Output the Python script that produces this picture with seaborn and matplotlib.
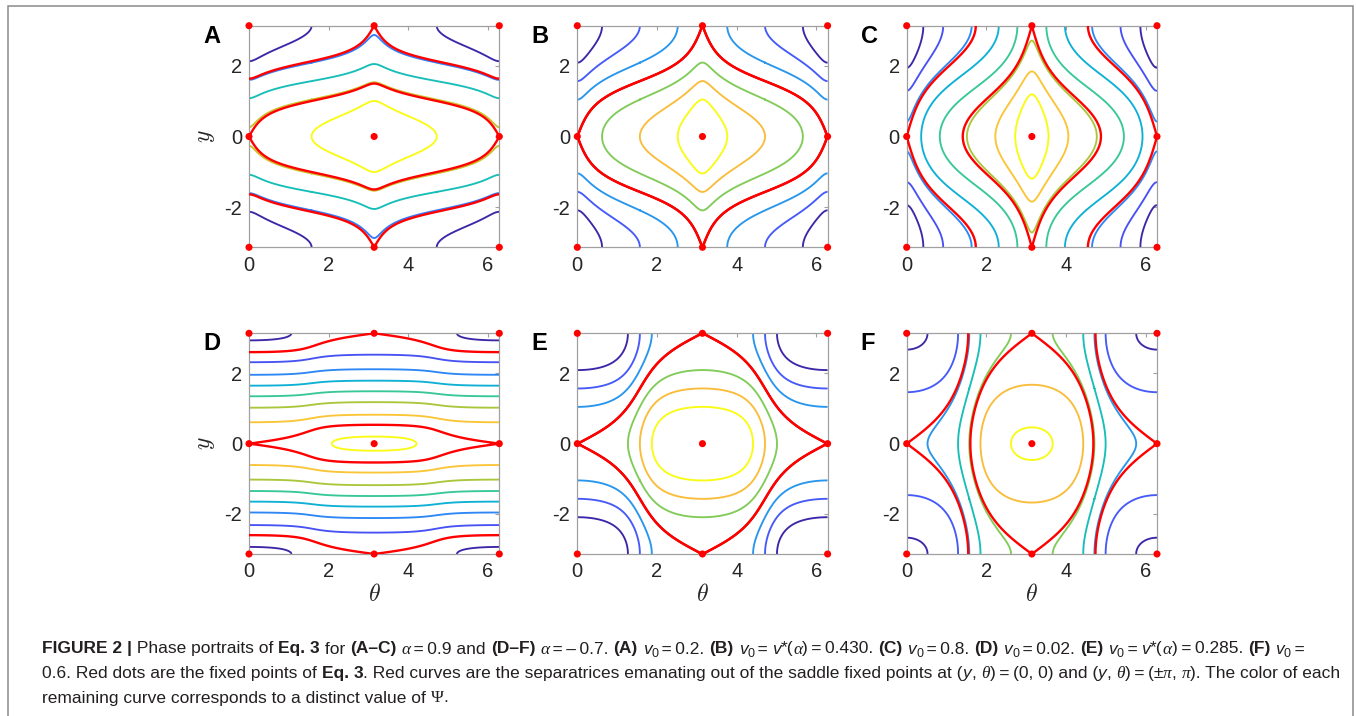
import numpy as np
import matplotlib
matplotlib.use("Agg")
import matplotlib.pyplot as plt
import seaborn as sns
from matplotlib.colors import LinearSegmentedColormap
from matplotlib.patches import Rectangle
from matplotlib.transforms import IdentityTransform
from matplotlib.font_manager import FontProperties

# ---------------- data ----------------
panel_labels = ["A", "B", "C", "D", "E", "F"]
alpha_vals = [0.9, 0.9, 0.9, -0.7, -0.7, -0.7]
v0_vals = [0.2, 0.430, 0.8, 0.02, 0.285, 0.6]

levels_A = [-1.0, -0.5, 0.0, 0.5, 1.0]
levels_B = [-1.5, -1.0, -0.5, 0.0, 0.5, 1.0, 1.5]
levels_C = [-2.23, -1.59, -0.95, -0.32, 0.32, 0.95, 1.59, 2.23]
levels_D = [-1.05, -0.75, -0.45, -0.15, 0.15, 0.45, 0.75, 1.05]
levels_E = [-1.5, -1.0, -0.5, 0.0, 0.5, 1.0, 1.5]
levels_F = [-3.0, -2.0, -1.0, 0.0, 1.0, 2.0, 3.0]
panel_levels = [levels_A, levels_B, levels_C, levels_D, levels_E, levels_F]

fp_theta = [0, np.pi, 2 * np.pi, 0, np.pi, 2 * np.pi, 0, np.pi, 2 * np.pi]
fp_y = [-np.pi, -np.pi, -np.pi, 0, 0, 0, np.pi, np.pi, np.pi]

xticks = [0, 2, 4, 6]
yticks = [-2, 0, 2]

# ---------------- style ----------------
sns.set_theme(style="white")
plt.rcParams["font.family"] = ["Liberation Sans", "DejaVu Sans"]
plt.rcParams["mathtext.fontset"] = "cm"
plt.rcParams["axes.unicode_minus"] = False

parula_anchor = [
    (0.2422, 0.1504, 0.6603), (0.2706, 0.2147, 0.8364), (0.2813, 0.3006, 0.9414),
    (0.2699, 0.3892, 0.9906), (0.1963, 0.4847, 0.9892), (0.1687, 0.5703, 0.9359),
    (0.1248, 0.6459, 0.8883), (0.0297, 0.7082, 0.8163), (0.0964, 0.7500, 0.7120),
    (0.2161, 0.7843, 0.5923), (0.3909, 0.8029, 0.4354), (0.6174, 0.7876, 0.2612),
    (0.8203, 0.7498, 0.1535), (0.9728, 0.7298, 0.2394), (0.9892, 0.8136, 0.1885),
    (0.9597, 0.9135, 0.1423), (0.9769, 0.9839, 0.0805)]
pos = np.r_[np.arange(0, 64, 4) / 63.0, 1.0]
parula = LinearSegmentedColormap.from_list("parula", list(zip(pos, parula_anchor)))

W, H = 1356, 716
fig = plt.figure(figsize=(W / 100, H / 100), dpi=100)
fig.patch.set_facecolor("white")

col_left = [249.0, 577.3, 906.7]
ax_w = 250.3
row_top = [25.7, 333.3]
row_h = [221.6, 220.7]

theta = np.linspace(0, 2 * np.pi, 1201)
yy = np.linspace(-np.pi, np.pi, 1201)
TH, Y = np.meshgrid(theta, yy)


def psi(alpha, v0, th, y):
    a = np.sqrt(1 + alpha)
    c = np.sqrt(2 * abs(alpha))
    if alpha > 0:
        F = -np.arctanh(c / a * np.cos(th)) / (a * c)
    else:
        F = -np.arctan(c / a * np.cos(th)) / (a * c)
    return np.cos(y) + 2 * v0 * F


frame_col = "#a0a0a0"
for i in range(6):
    r, cidx = divmod(i, 3)
    left, top, h = col_left[cidx], row_top[r], row_h[r]
    ax = fig.add_axes([left / W, 1 - (top + h) / H, ax_w / W, h / H])
    P = psi(alpha_vals[i], v0_vals[i], TH, Y)
    lev = panel_levels[i]
    ax.contour(TH, Y, P, levels=lev, cmap=parula, vmin=min(lev), vmax=max(lev),
               linewidths=1.35, linestyles="solid", zorder=2)
    s1 = psi(alpha_vals[i], v0_vals[i], 0.0, 0.0)
    s2 = psi(alpha_vals[i], v0_vals[i], np.pi, np.pi)
    sep = sorted({round(s1, 6), round(s2, 6)})
    ax.contour(TH, Y, P, levels=sep, colors="#ff0000", linewidths=1.7,
               linestyles="solid", zorder=3)
    sns.scatterplot(x=fp_theta, y=fp_y, color="#ff0000", s=26, edgecolor="none",
                    ax=ax, clip_on=False, zorder=5, legend=False)
    ax.set_xlim(0, 2 * np.pi)
    ax.set_ylim(-np.pi, np.pi)
    ax.set_xticks(xticks)
    ax.set_yticks(yticks)
    ax.tick_params(direction="in", length=3, width=0.8, color=frame_col,
                   top=True, right=True, labelsize=14.5, labelcolor="#262626")
    ax.tick_params(axis="x", pad=6.0)
    ax.tick_params(axis="y", pad=5)
    for sp in ax.spines.values():
        sp.set_color(frame_col)
        sp.set_linewidth(0.9)
    if cidx == 0:
        ax.set_ylabel(r"$y$", fontsize=17, color="#262626", va="center", rotation=90)
        ax.yaxis.set_label_coords(-0.172, 0.5)
    else:
        ax.set_ylabel("")
    if r == 1:
        ax.set_xlabel(r"$\theta$", fontsize=17, color="#262626", va="center")
        ax.xaxis.set_label_coords(0.5, -0.185)
    else:
        ax.set_xlabel("")
    fig.text(left - 46, H - (top + 10.5), panel_labels[i], transform=IdentityTransform(),
             ha="left", va="center", fontsize=17, fontweight="bold", color="black")

# ---------------- outer frame ----------------
fig.add_artist(Rectangle((8, -20), 1353 - 8, (H - 6) + 20, transform=IdentityTransform(),
                         fill=False, edgecolor="#8a8a8a", linewidth=1.1))

# ---------------- caption ----------------
renderer = fig.canvas.get_renderer()
cap_col = "#231f20"
SANS = ["Liberation Sans", "DejaVu Sans"]
SERIF = ["Liberation Serif", "DejaVu Serif"]


def fprops(style, size):
    if style == "b":
        return FontProperties(family=SANS, weight="bold", size=size)
    if style == "i":
        return FontProperties(family=SANS, style="italic", size=size)
    if style == "g":
        return FontProperties(family=SERIF, style="italic", size=size)
    if style == "G":
        return FontProperties(family=SERIF, size=size)
    if style == "sub":
        return FontProperties(family=SANS, size=size * 0.72)
    return FontProperties(family=SANS, size=size)


def twidth(s, fp):
    t = fig.text(0, 0, "|" + s + "|", fontproperties=fp, transform=IdentityTransform())
    w1 = t.get_window_extent(renderer).width
    t.set_text("||")
    w2 = t.get_window_extent(renderer).width
    t.remove()
    return w1 - w2


ts = "\u2009"
EQ = ts + "=" + ts
V0 = [("v", "i"), ("0", "sub")]
line1 = ([("FIGURE 2 |", "b"), (" Phase portraits of ", "r"), ("Eq. 3", "b"), (" for ", "r"),
          ("(A–C)", "b"), (" ", "r"), ("α", "g"), (EQ + "0.9 and ", "r"), ("(D–F)", "b"), (" ", "r"),
          ("α", "g"), (EQ + "–" + ts + "0.7. ", "r"), ("(A)", "b"), (" ", "r")] + V0 +
         [(EQ + "0.2. ", "r"), ("(B)", "b"), (" ", "r")] + V0 +
         [(EQ, "r"), ("v", "i"), ("*(", "r"), ("α", "g"), (")" + EQ + "0.430. ", "r"), ("(C)", "b"), (" ", "r")] + V0 +
         [(EQ + "0.8. ", "r"), ("(D)", "b"), (" ", "r")] + V0 +
         [(EQ + "0.02. ", "r"), ("(E)", "b"), (" ", "r")] + V0 +
         [(EQ, "r"), ("v", "i"), ("*(", "r"), ("α", "g"), (")" + EQ + "0.285. ", "r"), ("(F)", "b"), (" ", "r")] + V0 +
         [(ts + "=", "r")])
line2 = [("0.6. Red dots are the fixed points of ", "r"), ("Eq. 3", "b"),
         (". Red curves are the separatrices emanating out of the saddle fixed points at (", "r"),
         ("y", "i"), (", ", "r"), ("θ", "g"), (")" + EQ + "(0, 0) and (", "r"), ("y", "i"), (", ", "r"),
         ("θ", "g"), (")" + EQ + "(±", "r"), ("π", "g"), (", ", "r"), ("π", "g"), ("). The color of each", "r")]
line3 = [("remaining curve corresponds to a distinct value of ", "r"), ("Ψ", "G"), (".", "r")]


def line_width(runs, size):
    return sum(twidth(s, fprops(st, size)) for s, st in runs)


base = 11.0
sc2 = 1301.0 / line_width(line2, base)
sc1 = 1241.0 / line_width(line1, base)
size = base * 0.5 * (sc1 + sc2)

baselines = [H - 653.5, H - 678.0, H - 702.5]
for runs, yb in zip([line1, line2, line3], baselines):
    x = 42.0
    for s, st in runs:
        fp = fprops(st, size)
        dy = -0.2 * size * 100 / 72 if st == "sub" else 0.0
        fig.text(x, yb + dy, s, fontproperties=fp, transform=IdentityTransform(),
                 ha="left", va="baseline", color=cap_col)
        x += twidth(s, fp)

fig.savefig("out.png", dpi=100, facecolor="white")
